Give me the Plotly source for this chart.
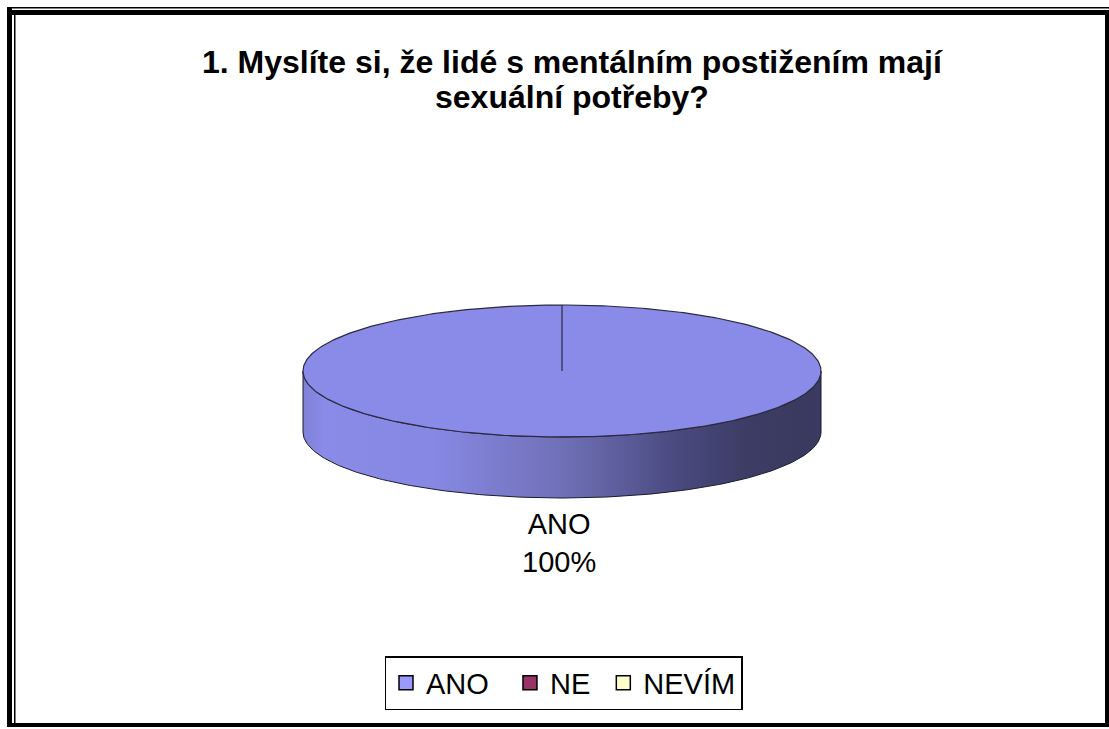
import numpy as np
import plotly.graph_objects as go

# ---- data ----
categories = ["ANO", "NE", "NEVÍM"]
values = [100, 0, 0]
colors = ["#8a8be8", "#993366", "#ffffcc"]
legend_colors = ["#9999ff", "#993366", "#ffffcc"]
legend_pad = [2, 1, 0]  # trailing spacing per legend entry
title_lines = ["1. Myslíte si, že lidé s mentálním postižením mají", "sexuální potřeby?"]

W, H = 1109, 729
FONT = "Liberation Sans, Arial, sans-serif"

# pie geometry (pixel space)
cx, cy, rx, ry, depth = 562, 371, 259, 66, 61

fig = go.Figure()

total = float(sum(values))
cum = 0.0
side_scale = [[0.0, "#7f80d6"], [0.04, "#8a8be8"], [0.25, "#8788e3"], [0.5, "#7070b8"],
              [0.72, "#4a4a80"], [0.86, "#3c3c64"], [1.0, "#3a3a60"]]

def pt(t, dy=0.0):
    return cx + rx * np.sin(t), cy - ry * np.cos(t) + dy

for cat, v, col in zip(categories, values, colors):
    if v <= 0:
        continue
    t0 = cum / total * 2 * np.pi
    t1 = (cum + v) / total * 2 * np.pi
    cum += v
    # side (front visible part: t in [pi/2, 3pi/2])
    a, b = max(t0, np.pi / 2), min(t1, 3 * np.pi / 2)
    if b > a:
        ts = np.linspace(a, b, 200)
        xs_top, ys_top = pt(ts)
        xs_bot, ys_bot = pt(ts[::-1], depth)
        sx = np.concatenate([xs_top, xs_bot, xs_top[:1]])
        sy = np.concatenate([ys_top, ys_bot, ys_top[:1]])
        fig.add_trace(go.Scatter(x=sx, y=sy, mode="lines", fill="toself",
                                 fillgradient=dict(type="horizontal", colorscale=side_scale),
                                 line=dict(color="#1a1a30", width=1),
                                 hoverinfo="skip", showlegend=False))
    # top
    ts = np.linspace(t0, t1, 400)
    xs, ys = pt(ts)
    tx = np.concatenate([[cx], xs, [cx]])
    ty = np.concatenate([[cy], ys, [cy]])
    fig.add_trace(go.Scatter(x=tx, y=ty, mode="lines", fill="toself", fillcolor=col,
                             line=dict(color="#2a2a40", width=1.2),
                             hoverinfo="skip", showlegend=False))
    # data label below the pie
    fig.add_annotation(x=cx - 3, y=cy + ry + depth + 45, xref="x", yref="y",
                       text=f"{cat}<br>{v / total * 100:.0f}%", showarrow=False,
                       font=dict(family=FONT, size=29, color="black"))

# legend entries
for cat, col, pad in zip(categories, legend_colors, legend_pad):
    fig.add_trace(go.Scatter(x=[None], y=[None], mode="markers", name=cat + "\u00a0" * pad,
                             marker=dict(symbol="square", size=14, color=col,
                                         line=dict(color="black", width=1.5))))

# title
TX = 572 / W
fig.add_annotation(x=TX, y=62, xref="paper", yref="y", text=f"<b>{title_lines[0]}</b>",
                   showarrow=False, font=dict(family=FONT, size=32, color="black"))
fig.add_annotation(x=TX, y=97, xref="paper", yref="y", text=f"<b>{title_lines[1]}</b>",
                   showarrow=False, font=dict(family=FONT, size=32, color="black"))

# frame
frame = [(7, 7, 12, 727), (7, 10, 1109, 15), (7, 7, 1109, 8.5), (14, 15, 15.5, 723),
         (1105, 10, 1109, 727), (7, 723, 1109, 727)]
for x0, y0, x1, y1 in frame:
    fig.add_shape(type="rect", x0=x0, y0=y0, x1=x1, y1=y1, xref="x", yref="y",
                  fillcolor="black", line=dict(width=0), layer="above")

fig.update_layout(
    width=W, height=H, margin=dict(l=0, r=0, t=0, b=0),
    paper_bgcolor="white", plot_bgcolor="white",
    xaxis=dict(range=[0, W], visible=False, fixedrange=True),
    yaxis=dict(range=[H, 0], visible=False, fixedrange=True),
    showlegend=True,
    legend=dict(orientation="h", x=563.5 / W, xanchor="center", y=1 - 656 / H, yanchor="top",
                bordercolor="black", borderwidth=1.5, bgcolor="white",
                font=dict(family=FONT, size=29, color="black"),
                itemwidth=30, tracegroupgap=0),
)

fig.write_html("out.html")
